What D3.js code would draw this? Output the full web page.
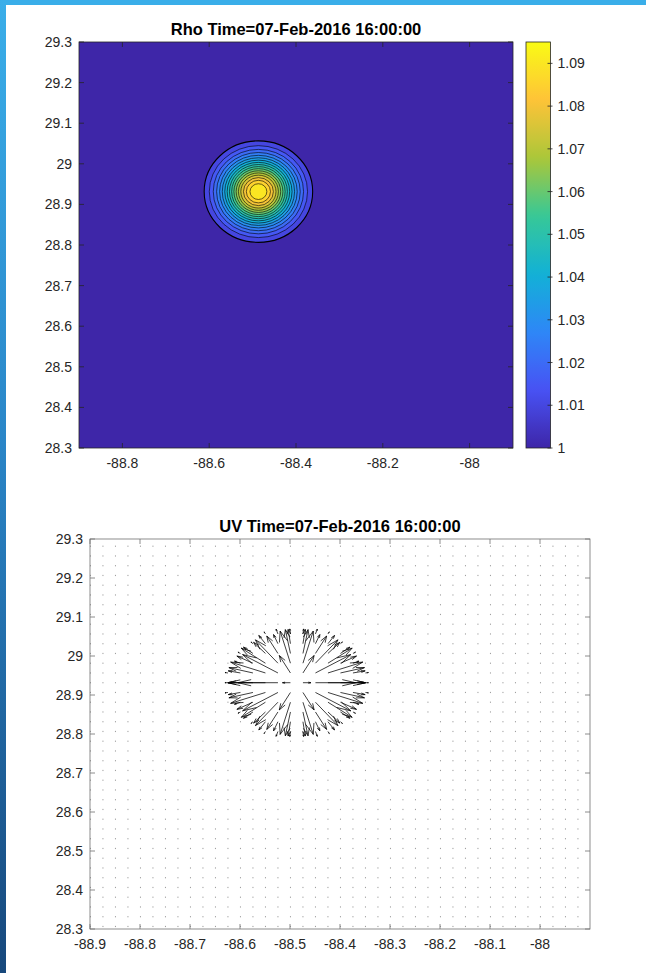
<!DOCTYPE html>
<html>
<head>
<meta charset="utf-8">
<script src="https://cdn.jsdelivr.net/npm/d3@7"></script>
<style>
  html, body { margin: 0; padding: 0; background: #fff; }
  svg { display: block; }
  text { font-family: "Liberation Sans", Arial, Helvetica, sans-serif; fill: #262626; }
</style>
</head>
<body>
<svg id="fig" width="646" height="973"></svg>
<script>
// ---------------- data ----------------
const timeLabel = "07-Feb-2016 16:00:00";
const lonRange = [-88.9, -87.9];
const latRange = [28.3, 29.3];
const rhoTicksX = [-88.8, -88.6, -88.4, -88.2, -88.0];
const uvTicksX = [-88.9, -88.8, -88.7, -88.6, -88.5, -88.4, -88.3, -88.2, -88.1, -88.0];
const latTicks = [28.3, 28.4, 28.5, 28.6, 28.7, 28.8, 28.9, 29.0, 29.1, 29.2, 29.3];
const colorbarTicks = [1, 1.01, 1.02, 1.03, 1.04, 1.05, 1.06, 1.07, 1.08, 1.09];
const rhoRange = [1, 1.095];

// centre of the density anomaly (lon, lat)
const eddyCenter = [-88.4866, 28.9315];
// filled-contour levels and the radius (deg) of each closed contour
const rhoLevels = [1.010, 1.015, 1.020, 1.025, 1.030, 1.035, 1.040, 1.045, 1.050,
                   1.055, 1.060, 1.065, 1.070, 1.075, 1.080, 1.085, 1.090];
const rhoRadii  = [0.1250, 0.1132, 0.1040, 0.0963, 0.0894, 0.0833, 0.0775, 0.0720, 0.0667,
                   0.0616, 0.0565, 0.0513, 0.0460, 0.0405, 0.0345, 0.0278, 0.0194];

// velocity grid
const gridLon0 = -88.8991, gridLat0 = 28.3065, gridStep = 0.025;
const gridCols = 40, gridRows = 40;
// outward arrow length (deg) per radial distance bin from the centre
const speedBinWidth = 0.0125;
const radialSpeed = [0, 0.016, 0.050, 0.080, 0.085, 0.075, 0.062, 0.050, 0.037, 0.025, 0.013, 0.006];

// ---------------- styles ----------------
const parulaStops = [[62,38,168],[72,82,244],[46,135,247],[18,177,214],
                     [55,200,151],[171,199,57],[254,195,56],[249,251,21]];
const parula = d3.scaleLinear()
  .domain(parulaStops.map((d, i) => i / (parulaStops.length - 1)))
  .range(parulaStops.map(c => d3.rgb(c[0], c[1], c[2])))
  .interpolate(d3.interpolateRgb)
  .clamp(true);
const rhoColor = d3.scaleLinear().domain(rhoRange).range([0, 1]);
const colorOf = v => parula(rhoColor(v));

const fmt = v => String(+v.toFixed(2));
const tickFont = 14;

const svg = d3.select("#fig");
const defs = svg.append("defs");

// page frame accents
const side = defs.append("linearGradient").attr("id", "sideGrad")
  .attr("x1", 0).attr("y1", 0).attr("x2", 0).attr("y2", 1);
side.append("stop").attr("offset", "0%").attr("stop-color", "#3aaee9");
side.append("stop").attr("offset", "45%").attr("stop-color", "#2a86c8");
side.append("stop").attr("offset", "100%").attr("stop-color", "#17487c");
svg.append("rect").attr("x", 0).attr("y", 0).attr("width", 646).attr("height", 5).attr("fill", "#3aaee9");
svg.append("rect").attr("x", 0).attr("y", 0).attr("width", 6).attr("height", 973).attr("fill", "url(#sideGrad)");

// generic inward-tick axes box
function boxAxes(g, x, y, xTicks, yTicks, frameColor) {
  const [x0, x1] = x.range();
  const [y1, y0] = y.range();
  const tl = 5;
  const tg = g.append("g").attr("stroke", frameColor).attr("stroke-width", 0.8).attr("fill", "none");
  xTicks.forEach(t => {
    const px = x(t);
    tg.append("line").attr("x1", px).attr("x2", px).attr("y1", y1).attr("y2", y1 - tl);
    tg.append("line").attr("x1", px).attr("x2", px).attr("y1", y0).attr("y2", y0 + tl);
  });
  yTicks.forEach(t => {
    const py = y(t);
    tg.append("line").attr("x1", x0).attr("x2", x0 + tl).attr("y1", py).attr("y2", py);
    tg.append("line").attr("x1", x1).attr("x2", x1 - tl).attr("y1", py).attr("y2", py);
  });
  tg.append("rect").attr("x", x0).attr("y", y0).attr("width", x1 - x0).attr("height", y1 - y0);

  g.append("g").selectAll("text").data(xTicks).join("text")
    .attr("x", d => x(d)).attr("y", y1 + 20)
    .attr("text-anchor", "middle").attr("font-size", tickFont)
    .text(fmt);
  g.append("g").selectAll("text").data(yTicks).join("text")
    .attr("x", x0 - 7).attr("y", d => y(d)).attr("dy", "0.36em")
    .attr("text-anchor", "end").attr("font-size", tickFont)
    .text(fmt);
}

// ---------------- Rho panel ----------------
{
  const g = svg.append("g");
  const x = d3.scaleLinear().domain(lonRange).range([79, 513]);
  const y = d3.scaleLinear().domain(latRange).range([448, 42]);

  g.append("rect").attr("x", 79).attr("y", 42).attr("width", 434).attr("height", 406)
    .attr("fill", colorOf(rhoRange[0]));

  const cx = x(eddyCenter[0]), cy = y(eddyCenter[1]);
  g.append("g").selectAll("ellipse").data(rhoLevels).join("ellipse")
    .attr("cx", cx).attr("cy", cy)
    .attr("rx", (d, i) => x(eddyCenter[0] + rhoRadii[i]) - cx)
    .attr("ry", (d, i) => cy - y(eddyCenter[1] + rhoRadii[i]))
    .attr("fill", d => colorOf(d))
    .attr("stroke", "#000")
    .attr("stroke-width", (d, i) => i === 0 ? 1.1 : 0.6);

  boxAxes(g, x, y, rhoTicksX, latTicks, "#262626");

  g.append("text").attr("x", 296).attr("y", 35).attr("text-anchor", "middle")
    .attr("font-size", 16.5).attr("font-weight", "bold").style("fill", "#000")
    .text("Rho Time=" + timeLabel);

  // colorbar
  const cbX = 526, cbW = 24.5;
  const cy0 = d3.scaleLinear().domain(rhoRange).range([448, 42]);
  const grad = defs.append("linearGradient").attr("id", "cbGrad")
    .attr("x1", 0).attr("y1", 1).attr("x2", 0).attr("y2", 0);
  d3.range(0, 1.0001, 0.02).forEach(t => {
    grad.append("stop").attr("offset", (t * 100) + "%").attr("stop-color", parula(t));
  });
  g.append("rect").attr("x", cbX).attr("y", 42).attr("width", cbW).attr("height", 406)
    .attr("fill", "url(#cbGrad)").attr("stroke", "#262626").attr("stroke-width", 0.8);
  const cbt = g.append("g").attr("stroke", "#262626").attr("stroke-width", 0.8);
  colorbarTicks.forEach(t => {
    cbt.append("line").attr("x1", cbX + cbW - 3).attr("x2", cbX + cbW + 2)
      .attr("y1", cy0(t)).attr("y2", cy0(t));
  });
  g.append("g").selectAll("text").data(colorbarTicks).join("text")
    .attr("x", cbX + cbW + 7).attr("y", d => cy0(d)).attr("dy", "0.36em")
    .attr("font-size", 14)
    .text(fmt);
}

// ---------------- UV panel ----------------
{
  const g = svg.append("g");
  const x = d3.scaleLinear().domain(lonRange).range([90, 590]);
  const y = d3.scaleLinear().domain(latRange).range([929, 539]);

  const pts = [];
  for (let j = 0; j < gridRows; j++) {
    for (let i = 0; i < gridCols; i++) {
      const lon = gridLon0 + i * gridStep, lat = gridLat0 + j * gridStep;
      const dx = lon - eddyCenter[0], dy = lat - eddyCenter[1];
      const r = Math.hypot(dx, dy);
      const bin = Math.round(r / speedBinWidth);
      const s = bin < radialSpeed.length ? radialSpeed[bin] : 0;
      pts.push({lon, lat, u: s * dx / r, v: s * dy / r, s});
    }
  }

  // resting grid points
  g.append("g").selectAll("rect").data(pts.filter(p => p.s === 0)).join("rect")
    .attr("x", p => x(p.lon) - 0.5).attr("y", p => y(p.lat) - 0.6)
    .attr("width", 1).attr("height", 1.2).attr("fill", "#9c9c9c");

  // arrows, heads built in data space as quiver does
  const alpha = 0.33, beta = 0.3;
  const arrowPath = p => {
    const tx = p.lon + p.u, ty = p.lat + p.v;
    const h1x = tx - alpha * (p.u + beta * p.v), h1y = ty - alpha * (p.v - beta * p.u);
    const h2x = tx - alpha * (p.u - beta * p.v), h2y = ty - alpha * (p.v + beta * p.u);
    return `M${x(p.lon)},${y(p.lat)}L${x(tx)},${y(ty)}` +
           `M${x(h1x)},${y(h1y)}L${x(tx)},${y(ty)}L${x(h2x)},${y(h2y)}`;
  };
  g.append("g").selectAll("path").data(pts.filter(p => p.s > 0)).join("path")
    .attr("d", arrowPath)
    .attr("fill", "none").attr("stroke", "#000").attr("stroke-width", 0.75);

  boxAxes(g, x, y, uvTicksX, latTicks, "#707070");

  g.append("text").attr("x", 340).attr("y", 532).attr("text-anchor", "middle")
    .attr("font-size", 16.5).attr("font-weight", "bold").style("fill", "#000")
    .text("UV Time=" + timeLabel);
}
</script>
</body>
</html>
